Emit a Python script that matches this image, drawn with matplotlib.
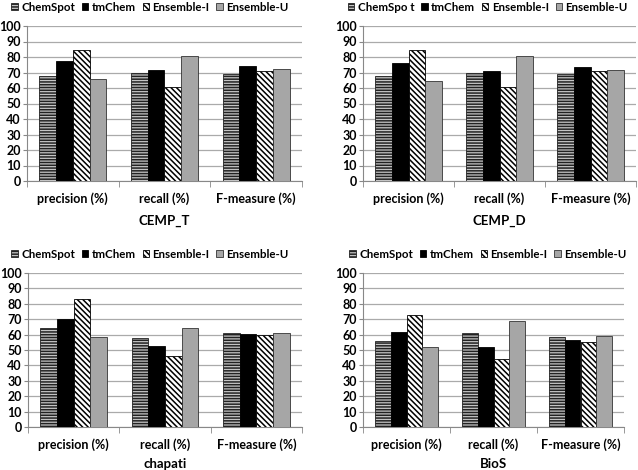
import matplotlib.pyplot as plt
import numpy as np

plt.rcParams['font.family'] = ['Lato', 'DejaVu Sans']
plt.rcParams['font.weight'] = 'bold'
plt.rcParams['hatch.linewidth'] = 1.1

metrics = ["precision (%)", "recall (%)", "F-measure (%)"]
systems = ["ChemSpot", "tmChem", "Ensemble-I", "Ensemble-U"]
yticks = list(range(0, 101, 10))

# rows: ChemSpot, tmChem, Ensemble-I, Ensemble-U ; columns: precision, recall, F
cemp_t = [[68.0, 69.9, 69.0],
          [77.2, 71.8, 74.4],
          [84.3, 60.9, 71.0],
          [65.6, 80.4, 72.3]]
cemp_d = [[68.0, 69.9, 69.0],
          [76.3, 71.2, 73.5],
          [84.3, 60.4, 71.0],
          [64.7, 80.4, 71.6]]
chapati = [[64.1, 58.1, 60.9],
           [70.4, 52.5, 60.3],
           [83.2, 46.4, 59.8],
           [58.5, 64.1, 61.3]]
bios = [[55.9, 61.1, 58.5],
        [62.0, 52.1, 56.6],
        [72.8, 44.1, 54.9],
        [51.8, 68.7, 59.4]]

# legend centre x in pixels for each panel
panels = [("CEMP_T", cemp_t, [27, 302, 26, 181], "ChemSpot", 150, 7.5),
          ("CEMP_D", cemp_d, [363, 636, 26, 181], "ChemSpo t", 488, 7.5),
          ("chapati", chapati, [28, 302, 273, 427], "ChemSpot", 150, 5),
          ("BioS", bios, [363, 624, 273, 427], "ChemSpot", 488, 5)]

styles = [dict(facecolor="#c4c4c4", hatch="------", edgecolor="#222222"),
          dict(facecolor="black", edgecolor="black"),
          dict(facecolor="white", hatch="\\\\\\\\\\\\", edgecolor="black"),
          dict(facecolor="#a6a6a6", edgecolor="#333333")]

W, H = 638, 470
fig = plt.figure(figsize=(W / 100, H / 100), dpi=100)

x = np.arange(len(metrics))
bw = 0.183
for title, data, (l, r, t, b), first, lx, lpad in panels:
    ax = fig.add_axes([l / W, 1 - b / H, (r - l) / W, (b - t) / H])
    for i, vals in enumerate(data):
        ax.bar(x + (i - 1.5) * bw, vals, bw, linewidth=0.6,
               label=(first if i == 0 else systems[i]), zorder=3, **styles[i])
    ax.set_ylim(0, 100)
    ax.set_xlim(-0.5, 2.5)
    ax.set_yticks(yticks)
    ax.set_xticks(x)
    ax.set_xticklabels(metrics)
    ax.set_xticks([-0.5, 0.5, 1.5, 2.5], minor=True)
    ax.tick_params(axis='x', which='major', length=0, pad=8, labelsize=9)
    ax.tick_params(axis='x', which='minor', length=4, color="#888888")
    ax.tick_params(axis='y', length=3, color="#888888", labelsize=9, pad=1.5)
    ax.grid(axis='y', color="#aaaaaa", linewidth=0.9, zorder=0)
    for s in ['top', 'right']:
        ax.spines[s].set_visible(False)
    ax.spines['left'].set_color("#888888")
    ax.spines['bottom'].set_color("#888888")
    ax.set_xlabel(title, fontsize=9.5, labelpad=lpad, fontweight='bold')
    ax.legend(loc='lower center', bbox_to_anchor=(lx / W, 1 - (t - 13) / H),
              bbox_transform=fig.transFigure, ncol=4, frameon=False,
              fontsize=8.3, handlelength=0.55, handleheight=0.55, handletextpad=0.3,
              columnspacing=0.6, borderaxespad=0, borderpad=0)

fig.savefig("out.png", dpi=100)
